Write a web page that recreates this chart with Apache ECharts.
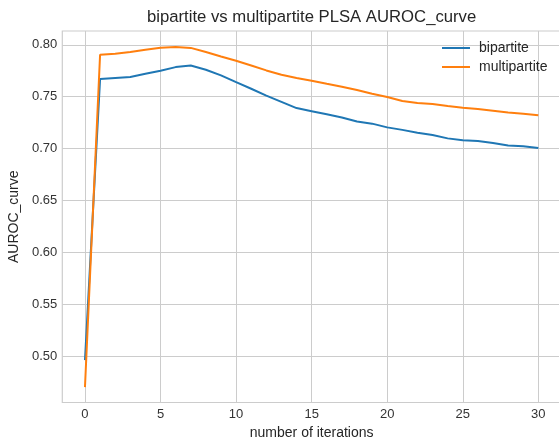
<!DOCTYPE html>
<html>
<head>
<meta charset="utf-8">
<script src="https://cdn.jsdelivr.net/npm/echarts@6/dist/echarts.min.js"></script>
<style>
html,body{margin:0;padding:0;background:#fff;}
#chart{width:559px;height:443px;}
</style>
</head>
<body>
<div id="chart"></div>
<script>
const iterations = [0,1,2,3,4,5,6,7,8,9,10,11,12,13,14,15,16,17,18,19,20,21,22,23,24,25,26,27,28,29,30];
const bipartite = [0.496,0.767,0.768,0.769,0.772,0.775,0.7785,0.780,0.776,0.7705,0.764,0.7576,0.751,0.745,0.739,0.736,0.733,0.730,0.726,0.724,0.7204,0.718,0.7153,0.713,0.7098,0.708,0.7073,0.7054,0.703,0.7021,0.7005];
const multipartite = [0.470,0.7904,0.7913,0.793,0.7952,0.7971,0.7978,0.797,0.793,0.7887,0.7846,0.780,0.7753,0.7711,0.7679,0.7653,0.7624,0.7596,0.7564,0.7528,0.7497,0.7458,0.7439,0.7429,0.741,0.7393,0.738,0.7364,0.7348,0.7336,0.732];
const xTicks = [0,5,10,15,20,25,30];
const yTicks = [0.50,0.55,0.60,0.65,0.70,0.75,0.80];
const seriesNames = ['bipartite','multipartite'];
const colors = ['#1f77b4','#ff7f0e'];

const FONT = '"Liberation Sans", Arial, sans-serif';
const chart = echarts.init(document.getElementById('chart'), null, {renderer:'canvas'});
const option = {
  backgroundColor:'#ffffff',
  animation:false,
  textStyle:{fontFamily:FONT},
  title:{
    text:'bipartite vs multipartite PLSA AUROC_curve',
    left:311.6, top:9, textAlign:'center', padding:0,
    textStyle:{fontFamily:FONT,fontSize:16.7,fontWeight:'normal',color:'#262626'}
  },
  legend:{
    orient:'vertical', left:442, top:41, padding:0,
    icon:'rect', itemWidth:28, itemHeight:2, itemGap:5,
    textStyle:{fontFamily:FONT,fontSize:14,lineHeight:14,color:'#262626',padding:[0,0,0,4]},
    data:seriesNames
  },
  grid:{left:62.3, top:31, width:498.7, height:371.5, show:true, borderColor:'#cccccc', borderWidth:1.2, containLabel:false, outerBoundsMode:'none'},
  xAxis:{
    type:'value', min:-1.5, max:31.5,
    axisLine:{show:false}, axisTick:{show:false, customValues:xTicks},
    axisLabel:{customValues:xTicks, fontFamily:FONT, fontSize:13, color:'#333333', margin:5},
    splitLine:{show:true, lineStyle:{color:'#cccccc', width:1}},
    name:'number of iterations', nameLocation:'middle', nameGap:24,
    nameTextStyle:{fontFamily:FONT, fontSize:14, color:'#262626'}
  },
  yAxis:{
    type:'value', min:0.4552, max:0.8133,
    axisLine:{show:false}, axisTick:{show:false, customValues:yTicks},
    axisLabel:{customValues:yTicks, fontFamily:FONT, fontSize:13, color:'#333333', margin:5, formatter:v=>v.toFixed(2)},
    splitLine:{show:true, lineStyle:{color:'#cccccc', width:1}},
    name:'AUROC_curve', nameLocation:'middle', nameGap:39,
    nameTextStyle:{fontFamily:FONT, fontSize:14, color:'#262626'}
  },
  series:seriesNames.map((n,i)=>({
    name:n, type:'line', symbol:'none', smooth:false,
    data:iterations.map((x,j)=>[x,(i===0?bipartite:multipartite)[j]]),
    lineStyle:{color:colors[i], width:2},
    itemStyle:{color:colors[i]}
  }))
};
chart.setOption(option);
</script>
</body>
</html>
